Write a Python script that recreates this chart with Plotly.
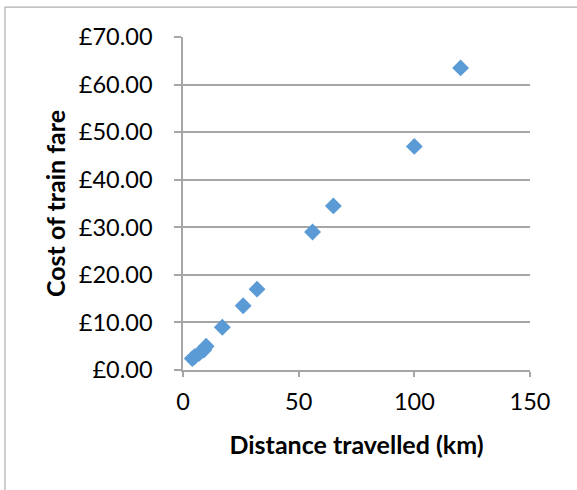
import plotly.graph_objects as go

# Distance (km) and train fare (£) for each journey
distance_km = [4, 5, 7, 9, 10, 17, 26, 32, 56, 65, 100, 120]
fare_gbp = [2.4, 2.8, 3.5, 4.2, 5.0, 9.0, 13.5, 17.0, 29.0, 34.5, 47.0, 63.5]

x_ticks = [0, 50, 100, 150]
y_ticks = [0, 10, 20, 30, 40, 50, 60, 70]
y_tick_text = [f"£{v:.2f}" for v in y_ticks]

grid = "#a6a6a6"
font = "Lato, 'Open Sans', sans-serif"

fig = go.Figure(
    go.Scatter(
        x=distance_km,
        y=fare_gbp,
        mode="markers",
        marker=dict(symbol="diamond", size=13, color="#5b9bd5"),
        showlegend=False,
    )
)

fig.update_layout(
    width=577,
    height=490,
    margin=dict(l=183, r=47, t=37, b=120),
    paper_bgcolor="white",
    plot_bgcolor="white",
    font=dict(family=font, size=23.5, color="black"),
    shapes=[
        dict(
            type="rect", xref="paper", yref="paper",
            x0=-0.513, x1=1.2, y0=-0.5, y1=1.09,
            line=dict(color="#b0b0b0", width=1.2), fillcolor="rgba(0,0,0,0)",
            layer="below",
        )
    ],
)

fig.update_xaxes(
    range=[0, 150],
    tickvals=x_ticks,
    showgrid=False,
    zeroline=False,
    showline=True,
    linecolor=grid,
    linewidth=1.5,
    ticks="outside",
    ticklen=5,
    tickcolor=grid,
    tickwidth=1.5,
    ticklabelstandoff=5,
    tickfont=dict(size=23.5),
    title=dict(text="<b>Distance travelled (km)</b>", standoff=23,
               font=dict(size=25)),
)

fig.update_yaxes(
    range=[0, 70],
    tickvals=y_ticks,
    ticktext=y_tick_text,
    showgrid=True,
    gridcolor=grid,
    gridwidth=1.5,
    zeroline=False,
    showline=True,
    linecolor=grid,
    linewidth=1.5,
    ticks="outside",
    ticklen=7,
    tickcolor=grid,
    tickwidth=1.5,
    ticklabelstandoff=17,
    tickfont=dict(size=23.5),
    title=dict(text="<b>Cost of train fare</b>", standoff=6,
               font=dict(size=25)),
)

fig.write_html("out.html")
